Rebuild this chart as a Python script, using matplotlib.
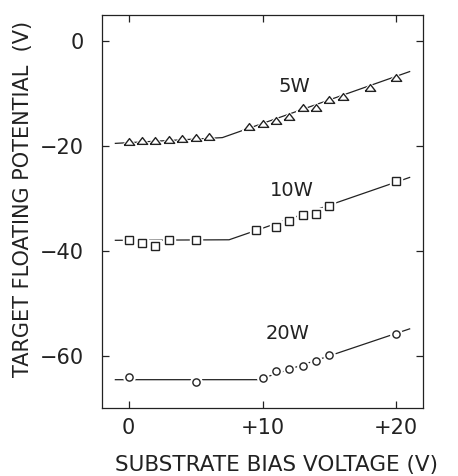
import numpy as np
import matplotlib
matplotlib.use("Agg")
import matplotlib.pyplot as plt

####
# Data
#===
x5 = [0, 1, 2, 3, 4, 5, 6, 9, 10, 11, 12, 13, 14, 15, 16, 18, 20]
y5 = [-19.2, -19.1, -19.0, -18.9, -18.7, -18.5, -18.3, -16.4, -15.8, -15.3, -14.4,
      -12.8, -12.7, -11.2, -10.6, -8.9, -7.1]
x10 = [0, 1, 2, 3, 5, 9.5, 11, 12, 13, 14, 15, 20]
y10 = [-38.0, -38.5, -39.0, -37.9, -37.9, -36.1, -35.4, -34.4, -33.1, -33.0, -31.5, -26.6]
x20 = [0, 5, 10, 11, 12, 13, 14, 15, 20]
y20 = [-64.1, -65.0, -64.2, -62.9, -62.6, -62.0, -61.0, -59.9, -55.8]

# hand-drawn fit curves
fx5 = [-1, 7, 21]
fy5 = [-19.5, -18.4, -5.8]
fx10 = [-1, 7.5, 21]
fy10 = [-38.0, -37.9, -26.0]
fx20 = [-1, 9.7, 21]
fy20 = [-64.6, -64.6, -54.9]

labels = ['5W', '10W', '20W']
lab_x = [12.4, 12.2, 11.9]
lab_y = [-8.6, -28.5, -55.8]

####
# Plot
#===
plt.rcParams['font.family'] = 'DejaVu Sans'
fig = plt.figure(figsize=(4.58, 4.76), dpi=100)
ax = fig.add_axes([0.2227, 0.1429, 0.7009, 0.8256])

ink = '#222222'
for fx, fy in [(fx5, fy5), (fx10, fy10), (fx20, fy20)]:
    ax.plot(fx, fy, '-', color=ink, lw=0.9, zorder=1)

tri = [(-1, -0.55), (1, -0.55), (0, 0.75), (-1, -0.55)]
sets = [(x5, y5, tri, 7.5), (x10, y10, 's', 5.2), (x20, y20, 'o', 5.2)]
for xs, ys, m, ms in sets:
    ax.plot(xs, ys, marker=m, ls='none', ms=ms + 3, mfc='white', mec='white', zorder=2)
    ax.plot(xs, ys, marker=m, ls='none', ms=ms, mfc='white', mec=ink, mew=1.0, zorder=3)

for t, lx, ly in zip(labels, lab_x, lab_y):
    ax.text(lx, ly, t, fontsize=14, ha='center', va='center', color=ink)

ax.set_xlim(-2, 22)
ax.set_ylim(-70, 5)
ax.set_xticks([0, 10, 20])
ax.set_xticklabels(['0', '+10', '+20'])
ax.set_yticks([0, -20, -40, -60])
ax.set_yticklabels(['0', '\u221220', '\u221240', '\u221260'])
ax.tick_params(direction='in', top=True, right=True, length=5, width=0.9,
               labelsize=15, colors=ink)
ax.tick_params(axis='x', pad=7)
ax.tick_params(axis='y', pad=13)
for s in ax.spines.values():
    s.set_linewidth(0.9)
    s.set_color(ink)

fig.text(276.5 / 458, 1 - 471 / 476, 'SUBSTRATE BIAS VOLTAGE (V)', fontsize=15.5,
         color=ink, ha='center', va='baseline')
fig.text(23 / 458, 1 - 198.5 / 476, 'TARGET FLOATING POTENTIAL  (V)', fontsize=15,
         color=ink, ha='center', va='center', rotation=90)

fig.savefig('out.png', dpi=100)
